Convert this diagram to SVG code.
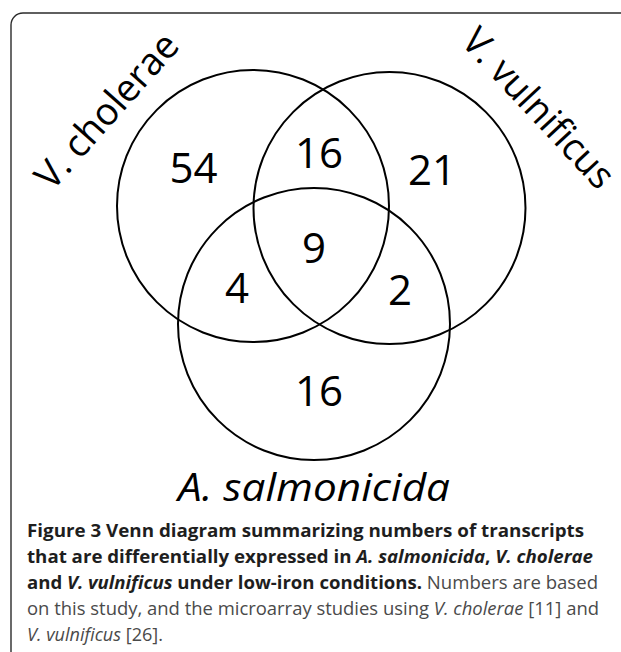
<svg xmlns="http://www.w3.org/2000/svg" width="621" height="652" viewBox="0 0 621 652">
  <style>
    .set { fill: none; stroke: #000; stroke-width: 2; }
    .frame { fill: none; stroke: #2b2b2b; stroke-width: 1.4; }
    .num { font-family: "Open Sans", "Liberation Sans", sans-serif; font-size: 42px; fill: #000; text-anchor: middle; }
    .lab { font-family: "Open Sans", "Liberation Sans", sans-serif; font-size: 38px; fill: #000; text-anchor: middle; }
    .cap { font-family: "Open Sans", "Liberation Sans", sans-serif; font-size: 17.5px; }
    .b { font-weight: bold; fill: #1e1e1e; }
    .r { font-weight: normal; fill: #4a4a4a; }
    .i { font-style: italic; }
  </style>
  <rect width="621" height="652" fill="#fff"/>
  <g id="frame">
    <path class="frame" d="M11,652 V25 A12,12 0 0 1 23,13 H621"/>
  </g>
  <g id="v-cholerae">
    <circle class="set" cx="253" cy="206" r="136"/>
    <text class="lab" transform="translate(116.5,119.5) rotate(-48.3)" textLength="194" lengthAdjust="spacingAndGlyphs">V. cholerae</text>
  </g>
  <g id="v-vulnificus">
    <circle class="set" cx="389.5" cy="208" r="136"/>
    <text class="lab" transform="translate(529,117) rotate(47)" textLength="203" lengthAdjust="spacingAndGlyphs">V. vulnificus</text>
  </g>
  <g id="a-salmonicida">
    <circle class="set" cx="314" cy="324" r="136"/>
    <text class="lab" x="314" y="501" font-size="46" font-style="italic" textLength="272" lengthAdjust="spacingAndGlyphs">A. salmonicida</text>
  </g>
  <g id="regions">
    <text class="num" x="193.5" y="183">54</text>
    <text class="num" x="319" y="168">16</text>
    <text class="num" x="432" y="185">21</text>
    <text class="num" x="314" y="263">9</text>
    <text class="num" x="237" y="303">4</text>
    <text class="num" x="400" y="305">2</text>
    <text class="num" x="319" y="406">16</text>
  </g>
  <g id="connectors"/>
  <g id="caption" class="cap">
    <text x="27" y="537" textLength="557" lengthAdjust="spacingAndGlyphs"><tspan class="b">Figure 3 Venn diagram summarizing numbers of transcripts</tspan></text>
    <text x="27" y="563" textLength="566" lengthAdjust="spacingAndGlyphs"><tspan class="b">that are differentially expressed in </tspan><tspan class="b i">A. salmonicida</tspan><tspan class="b">, </tspan><tspan class="b i">V. cholerae</tspan></text>
    <text x="27" y="589" textLength="571" lengthAdjust="spacingAndGlyphs"><tspan class="b">and </tspan><tspan class="b i">V. vulnificus</tspan><tspan class="b"> under low-iron conditions.</tspan><tspan class="r"> Numbers are based</tspan></text>
    <text x="27" y="615" textLength="572" lengthAdjust="spacingAndGlyphs"><tspan class="r">on this study, and the microarray studies using </tspan><tspan class="r i">V. cholerae</tspan><tspan class="r"> [11] and</tspan></text>
    <text x="27" y="641" textLength="136" lengthAdjust="spacingAndGlyphs"><tspan class="r i">V. vulnificus</tspan><tspan class="r"> [26].</tspan></text>
  </g>
</svg>
